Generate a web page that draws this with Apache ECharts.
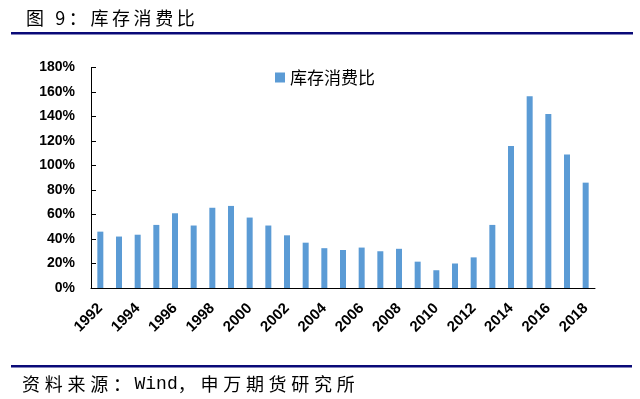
<!DOCTYPE html>
<html>
<head>
<meta charset="utf-8">
<title>库存消费比</title>
<style type="text/css">
    *{ margin:0; padding:0; }
    html,body{ width:100%; height:100%; background:#fff; }
    #main{ width:640px; height:399px; }
</style>
</head>
<body>
<div id="main"></div>
<script src="https://cdn.jsdelivr.net/npm/echarts@6/dist/echarts.min.js"></script>
<script type="text/javascript">
    // 数据
    var years = ['1992','1993','1994','1995','1996','1997','1998','1999','2000','2001',
                 '2002','2003','2004','2005','2006','2007','2008','2009','2010','2011',
                 '2012','2013','2014','2015','2016','2017','2018'];
    var ratio = [46, 42, 43.5, 51.5, 61, 51, 65.5, 67, 57.5, 51,
                 43, 37, 32.5, 31, 33, 30, 32, 21.5, 14.5, 20,
                 25, 51.5, 116, 156.5, 142, 109, 86];
    var yTicks = [0, 20, 40, 60, 80, 100, 120, 140, 160, 180];

    var cjk = '"Noto Sans CJK SC", "Noto Sans", sans-serif';
    var num = '"Liberation Sans", Arial, sans-serif';
    // 字间距：用细空格把字隔开
    function spaced(s, gap) { return s.split('').join(gap || '\u2009'); }

    var myChart = echarts.init(document.getElementById('main'));

    var option = {
        animation: false,
        title: {
            text: spaced('图 9：库存消费比'),
            left: 21, top: 4,
            textStyle: { fontFamily: cjk, fontSize: 18, fontWeight: 'normal', color: '#000' }
        },
        legend: {
            data: ['库存消费比'],
            icon: 'rect',
            left: 270, top: 64,
            itemWidth: 10, itemHeight: 10,
            itemGap: 4,
            textStyle: { fontFamily: cjk, fontSize: 17, color: '#000' }
        },
        graphic: [
            { type: 'rect', shape: { x: 11, y: 32, width: 622, height: 2.5 }, style: { fill: '#0A0A78' } },
            { type: 'rect', shape: { x: 11, y: 365, width: 621, height: 2.5 }, style: { fill: '#0A0A78' } },
            { type: 'text', left: 22, top: 375,
              style: {
                  text: '{a|' + spaced('资料来源：', '\u2009\u200A') + '}{m|\u2009Wind}{a|' + spaced('，申万期货研究所', '\u2009\u200A') + '}',
                  rich: {
                      a: { fontFamily: cjk, fontSize: 18, fill: '#000' },
                      m: { fontFamily: '"Liberation Mono", "DejaVu Sans Mono", monospace', fontSize: 18, fill: '#000' }
                  }
              } }
        ],
        grid: { left: 91, right: 45, top: 67.5, bottom: 111 },
        xAxis: {
            type: 'category',
            data: years,
            axisLine: { lineStyle: { color: '#000', width: 1 } },
            axisTick: { inside: true, interval: 1, length: 5, lineStyle: { color: '#000' } },
            axisLabel: {
                interval: 1, rotate: 45, margin: 18,
                fontFamily: num, fontSize: 15, fontWeight: 'bold', color: '#000'
            }
        },
        yAxis: {
            type: 'value',
            min: yTicks[0], max: yTicks[yTicks.length - 1], interval: 20,
            axisLine: { show: true, lineStyle: { color: '#000', width: 1 } },
            axisTick: { show: true, inside: true, length: 5, lineStyle: { color: '#000' } },
            splitLine: { show: false },
            axisLabel: {
                formatter: '{value}%', margin: 16,
                fontFamily: num, fontSize: 14, fontWeight: 'bold', color: '#000'
            }
        },
        series: [{
            name: '库存消费比',
            type: 'bar',
            data: ratio,
            barWidth: 6,
            itemStyle: { color: '#5B9BD5' }
        }]
    };
    myChart.setOption(option);
</script>
</body>
</html>
